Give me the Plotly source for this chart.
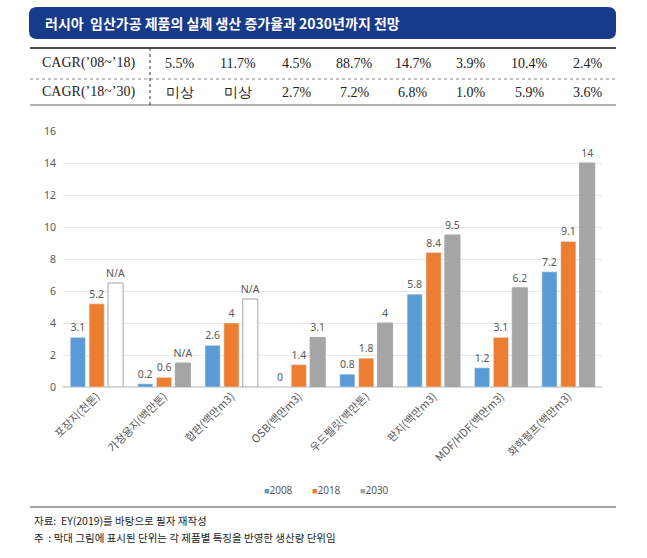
import plotly.graph_objects as go

W, H = 647, 558

# 차트 데이터
products = ["포장지(천톤)", "가정용지(백만톤)", "합판(백만m3)", "OSB(백만m3)",
            "우드펠릿(백만톤)", "판지(백만m3)", "MDF/HDF(백만m3)", "화학펄프(백만m3)"]
years = ["2008", "2018", "2030"]
v2008 = [3.1, 0.2, 2.6, 0, 0.8, 5.8, 1.2, 7.2]
v2018 = [5.2, 0.6, 4, 1.4, 1.8, 8.4, 3.1, 9.1]
v2030 = [6.5, 1.5, 5.5, 3.1, 4, 9.5, 6.2, 14]
na_2030 = [True, True, True, False, False, False, False, False]

# 표 데이터
row_labels = ["CAGR(’08~’18)", "CAGR(’18~’30)"]
cagr_08_18 = ["5.5%", "11.7%", "4.5%", "88.7%", "14.7%", "3.9%", "10.4%", "2.4%"]
cagr_18_30 = ["미상", "미상", "2.7%", "7.2%", "6.8%", "1.0%", "5.9%", "3.6%"]

title = "러시아  임산가공 제품의 실제 생산 증가율과 2030년까지 전망"
source = "자료:  EY(2019)를 바탕으로 필자 재작성"
note = "주  : 막대 그림에 표시된 단위는 각 제품별 특징을 반영한 생산량 단위임"

BLUE, ORANGE, GRAY = "#5b9bd5", "#ed7d31", "#a5a5a5"
LABEL = "#595959"


def px(x):
    return x / W


def py(y):
    return 1 - y / H


fig = go.Figure()

fig.add_trace(go.Bar(x=products, y=v2008, name=years[0], marker_color=BLUE,
                     text=[str(v) for v in v2008], textposition="outside"))
fig.add_trace(go.Bar(x=products, y=v2018, name=years[1], marker_color=ORANGE,
                     text=[str(v) for v in v2018], textposition="outside"))
fig.add_trace(go.Bar(
    x=products, y=v2030, name=years[2],
    marker=dict(color=["white" if (n and i != 1) else GRAY for i, n in enumerate(na_2030)],
                line=dict(color=GRAY, width=1)),
    text=["N/A" if n else str(v) for v, n in zip(v2030, na_2030)],
    textposition="outside"))

fig.update_traces(textfont=dict(size=10.5, color=LABEL, family="Noto Sans"),
                  cliponaxis=False, constraintext="none", hoverinfo="skip")

shapes = []
annotations = []

# 제목 박스 (둥근 모서리)
x0, x1, y0, y1, r = px(29), px(616), py(39), py(7), 8
rx, ry = r / W, r / H
shapes.append(dict(
    type="path", xref="paper", yref="paper",
    path=(f"M {x0 + rx},{y1} L {x1 - rx},{y1} Q {x1},{y1} {x1},{y1 - ry} "
          f"L {x1},{y0 + ry} Q {x1},{y0} {x1 - rx},{y0} L {x0 + rx},{y0} "
          f"Q {x0},{y0} {x0},{y0 + ry} L {x0},{y1 - ry} Q {x0},{y1} {x0 + rx},{y1} Z"),
    fillcolor="#173a8b", line=dict(width=0)))
annotations.append(dict(x=px(43), y=py(23), xref="paper", yref="paper", text="<b>" + title + "</b>",
                        showarrow=False, xanchor="left", yanchor="middle",
                        font=dict(size=14, color="white", family="Noto Sans CJK KR")))

# 표 선
shapes.append(dict(type="line", xref="paper", yref="paper", x0=px(30), x1=px(616),
                   y0=py(48), y1=py(48), line=dict(color="#111", width=1.5)))
shapes.append(dict(type="line", xref="paper", yref="paper", x0=px(30), x1=px(616),
                   y0=py(79), y1=py(79), line=dict(color="#888", width=1, dash="dot")))
shapes.append(dict(type="line", xref="paper", yref="paper", x0=px(30), x1=px(616),
                   y0=py(105), y1=py(105), line=dict(color="#999", width=1.5)))
shapes.append(dict(type="line", xref="paper", yref="paper", x0=px(150), x1=px(150),
                   y0=py(48), y1=py(105), line=dict(color="#333", width=1, dash="dot")))

col_x = [180 + i * (588 - 180) / 7 for i in range(8)]
for row_y, lab, vals in [(63, row_labels[0], cagr_08_18), (92, row_labels[1], cagr_18_30)]:
    annotations.append(dict(x=px(40), y=py(row_y), xref="paper", yref="paper", text=lab,
                            showarrow=False, xanchor="left", yanchor="middle",
                            font=dict(size=14, color="#222", family="Liberation Serif")))
    for cx, v in zip(col_x, vals):
        annotations.append(dict(x=px(cx), y=py(row_y), xref="paper", yref="paper", text=v,
                                showarrow=False, xanchor="center", yanchor="middle",
                                font=dict(size=14, color="#222", family="Liberation Serif")))

# 범례 (촘촘한 엑셀 스타일)
for lx, c, yr in zip([262, 310, 358], [BLUE, ORANGE, GRAY], years):
    annotations.append(dict(x=px(lx), y=py(490), xref="paper", yref="paper",
                            text=f"<span style='color:{c};font-size:9px'>■</span>{yr}",
                            showarrow=False, xanchor="left", yanchor="middle",
                            font=dict(size=10, color=LABEL, family="Noto Sans")))

# 하단 주석
shapes.append(dict(type="line", xref="paper", yref="paper", x0=px(30), x1=px(616),
                   y0=py(507), y1=py(507), line=dict(color="#444", width=1)))
for ty, t in [(520, source), (537, note)]:
    annotations.append(dict(x=px(32), y=py(ty), xref="paper", yref="paper", text=t,
                            showarrow=False, xanchor="left", yanchor="middle",
                            font=dict(size=10.5, color="#222", family="Noto Sans CJK KR")))

fig.update_layout(
    width=W, height=H,
    margin=dict(l=0, r=0, t=0, b=0, autoexpand=False),
    paper_bgcolor="white", plot_bgcolor="white",
    barmode="group", bargap=0.16, bargroupgap=0.2,
    font=dict(family="Noto Sans CJK KR", color=LABEL),
    xaxis=dict(domain=[px(63), px(602)], tickangle=-45, showline=False, ticks="",
               automargin=False, tickfont=dict(size=11, color=LABEL)),
    yaxis=dict(domain=[py(387), py(131)], range=[0, 16], dtick=2, showline=False,
               automargin=False, gridcolor="#e8e8e8", zeroline=True, zerolinecolor="#d9d9d9",
               tickfont=dict(size=10.5, color=LABEL, family="Noto Sans"), ticklabelstandoff=6),
    shapes=shapes, annotations=annotations,
    showlegend=False,
)

fig.write_html("out.html", config={"displayModeBar": False},
               post_script="document.body.style.margin='0';")
